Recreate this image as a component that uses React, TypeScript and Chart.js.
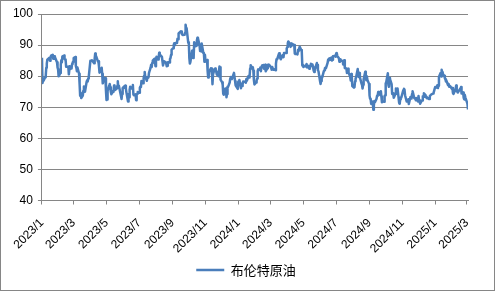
import React, { useEffect, useRef } from "react";
import { Chart, registerables } from "chart.js";

Chart.register(...registerables);

// ---- data ----
const seriesName = "布伦特原油";

const xTickLabels = [
  "2023/1", "2023/3", "2023/5", "2023/7", "2023/9", "2023/11",
  "2024/1", "2024/3", "2024/5", "2024/7", "2024/9", "2024/11",
  "2025/1", "2025/3",
];

const yMin = 40;
const yMax = 100;
const yStep = 10;

const priceDates: string[] = [
  // 2023-01
  "2023-01-03","2023-01-04","2023-01-05","2023-01-06","2023-01-09","2023-01-10","2023-01-11","2023-01-12","2023-01-13","2023-01-17","2023-01-18","2023-01-19","2023-01-20","2023-01-23","2023-01-24","2023-01-25","2023-01-26","2023-01-27","2023-01-30","2023-01-31",
  // 2023-02
  "2023-02-01","2023-02-02","2023-02-03","2023-02-06","2023-02-07","2023-02-08","2023-02-09","2023-02-10","2023-02-13","2023-02-14","2023-02-15","2023-02-16","2023-02-17","2023-02-21","2023-02-22","2023-02-23","2023-02-24","2023-02-27","2023-02-28",
  // 2023-03
  "2023-03-01","2023-03-02","2023-03-03","2023-03-06","2023-03-07","2023-03-08","2023-03-09","2023-03-10","2023-03-13","2023-03-14","2023-03-15","2023-03-16","2023-03-17","2023-03-20","2023-03-21","2023-03-22","2023-03-23","2023-03-24","2023-03-27","2023-03-28","2023-03-29","2023-03-30","2023-03-31",
  // 2023-04
  "2023-04-03","2023-04-04","2023-04-05","2023-04-06","2023-04-10","2023-04-11","2023-04-12","2023-04-13","2023-04-14","2023-04-17","2023-04-18","2023-04-19","2023-04-20","2023-04-21","2023-04-24","2023-04-25","2023-04-26","2023-04-27","2023-04-28",
  // 2023-05
  "2023-05-01","2023-05-02","2023-05-03","2023-05-04","2023-05-05","2023-05-08","2023-05-09","2023-05-10","2023-05-11","2023-05-12","2023-05-15","2023-05-16","2023-05-17","2023-05-18","2023-05-19","2023-05-22","2023-05-23","2023-05-24","2023-05-25","2023-05-26","2023-05-30","2023-05-31",
  // 2023-06
  "2023-06-01","2023-06-02","2023-06-05","2023-06-06","2023-06-07","2023-06-08","2023-06-09","2023-06-12","2023-06-13","2023-06-14","2023-06-15","2023-06-16","2023-06-19","2023-06-20","2023-06-21","2023-06-22","2023-06-23","2023-06-26","2023-06-27","2023-06-28","2023-06-29","2023-06-30",
  // 2023-07
  "2023-07-03","2023-07-04","2023-07-05","2023-07-06","2023-07-07","2023-07-10","2023-07-11","2023-07-12","2023-07-13","2023-07-14","2023-07-17","2023-07-18","2023-07-19","2023-07-20","2023-07-21","2023-07-24","2023-07-25","2023-07-26","2023-07-27","2023-07-28","2023-07-31",
  // 2023-08
  "2023-08-01","2023-08-02","2023-08-03","2023-08-04","2023-08-07","2023-08-08","2023-08-09","2023-08-10","2023-08-11","2023-08-14","2023-08-15","2023-08-16","2023-08-17","2023-08-18","2023-08-21","2023-08-22","2023-08-23","2023-08-24","2023-08-25","2023-08-28","2023-08-29","2023-08-30","2023-08-31",
  // 2023-09
  "2023-09-01","2023-09-04","2023-09-05","2023-09-06","2023-09-07","2023-09-08","2023-09-11","2023-09-12","2023-09-13","2023-09-14","2023-09-15","2023-09-18","2023-09-19","2023-09-20","2023-09-21","2023-09-22","2023-09-25","2023-09-26","2023-09-27","2023-09-28","2023-09-29",
  // 2023-10
  "2023-10-02","2023-10-03","2023-10-04","2023-10-05","2023-10-06","2023-10-09","2023-10-10","2023-10-11","2023-10-12","2023-10-13","2023-10-16","2023-10-17","2023-10-18","2023-10-19","2023-10-20","2023-10-23","2023-10-24","2023-10-25","2023-10-26","2023-10-27","2023-10-30","2023-10-31",
  // 2023-11
  "2023-11-01","2023-11-02","2023-11-03","2023-11-06","2023-11-07","2023-11-08","2023-11-09","2023-11-10","2023-11-13","2023-11-14","2023-11-15","2023-11-16","2023-11-17","2023-11-20","2023-11-21","2023-11-22","2023-11-23","2023-11-24","2023-11-27","2023-11-28","2023-11-29","2023-11-30",
  // 2023-12
  "2023-12-01","2023-12-04","2023-12-05","2023-12-06","2023-12-07","2023-12-08","2023-12-11","2023-12-12","2023-12-13","2023-12-14","2023-12-15","2023-12-18","2023-12-19","2023-12-20","2023-12-21","2023-12-22","2023-12-26","2023-12-27","2023-12-28","2023-12-29",
  // 2024-01
  "2024-01-02","2024-01-03","2024-01-04","2024-01-05","2024-01-08","2024-01-09","2024-01-10","2024-01-11","2024-01-12","2024-01-15","2024-01-16","2024-01-17","2024-01-18","2024-01-19","2024-01-22","2024-01-23","2024-01-24","2024-01-25","2024-01-26","2024-01-29","2024-01-30","2024-01-31",
  // 2024-02
  "2024-02-01","2024-02-02","2024-02-05","2024-02-06","2024-02-07","2024-02-08","2024-02-09","2024-02-12","2024-02-13","2024-02-14","2024-02-15","2024-02-16","2024-02-19","2024-02-20","2024-02-21","2024-02-22","2024-02-23","2024-02-26","2024-02-27","2024-02-28","2024-02-29",
  // 2024-03
  "2024-03-01","2024-03-04","2024-03-05","2024-03-06","2024-03-07","2024-03-08","2024-03-11","2024-03-12","2024-03-13","2024-03-14","2024-03-15","2024-03-18","2024-03-19","2024-03-20","2024-03-21","2024-03-22","2024-03-25","2024-03-26","2024-03-27","2024-03-28",
  // 2024-04
  "2024-04-01","2024-04-02","2024-04-03","2024-04-04","2024-04-05","2024-04-08","2024-04-09","2024-04-10","2024-04-11","2024-04-12","2024-04-15","2024-04-16","2024-04-17","2024-04-18","2024-04-19","2024-04-22","2024-04-23","2024-04-24","2024-04-25","2024-04-26","2024-04-29","2024-04-30",
  // 2024-05
  "2024-05-01","2024-05-02","2024-05-03","2024-05-06","2024-05-07","2024-05-08","2024-05-09","2024-05-10","2024-05-13","2024-05-14","2024-05-15","2024-05-16","2024-05-17","2024-05-20","2024-05-21","2024-05-22","2024-05-23","2024-05-24","2024-05-28","2024-05-29","2024-05-30","2024-05-31",
  // 2024-06
  "2024-06-03","2024-06-04","2024-06-05","2024-06-06","2024-06-07","2024-06-10","2024-06-11","2024-06-12","2024-06-13","2024-06-14","2024-06-17","2024-06-18","2024-06-19","2024-06-20","2024-06-21","2024-06-24","2024-06-25","2024-06-26","2024-06-27","2024-06-28",
  // 2024-07
  "2024-07-01","2024-07-02","2024-07-03","2024-07-04","2024-07-05","2024-07-08","2024-07-09","2024-07-10","2024-07-11","2024-07-12","2024-07-15","2024-07-16","2024-07-17","2024-07-18","2024-07-19","2024-07-22","2024-07-23","2024-07-24","2024-07-25","2024-07-26","2024-07-29","2024-07-30","2024-07-31",
  // 2024-08
  "2024-08-01","2024-08-02","2024-08-05","2024-08-06","2024-08-07","2024-08-08","2024-08-09","2024-08-12","2024-08-13","2024-08-14","2024-08-15","2024-08-16","2024-08-19","2024-08-20","2024-08-21","2024-08-22","2024-08-23","2024-08-26","2024-08-27","2024-08-28","2024-08-29","2024-08-30",
  // 2024-09
  "2024-09-02","2024-09-03","2024-09-04","2024-09-05","2024-09-06","2024-09-09","2024-09-10","2024-09-11","2024-09-12","2024-09-13","2024-09-16","2024-09-17","2024-09-18","2024-09-19","2024-09-20","2024-09-23","2024-09-24","2024-09-25","2024-09-26","2024-09-27","2024-09-30",
  // 2024-10
  "2024-10-01","2024-10-02","2024-10-03","2024-10-04","2024-10-07","2024-10-08","2024-10-09","2024-10-10","2024-10-11","2024-10-14","2024-10-15","2024-10-16","2024-10-17","2024-10-18","2024-10-21","2024-10-22","2024-10-23","2024-10-24","2024-10-25","2024-10-28","2024-10-29","2024-10-30","2024-10-31",
  // 2024-11
  "2024-11-01","2024-11-04","2024-11-05","2024-11-06","2024-11-07","2024-11-08","2024-11-11","2024-11-12","2024-11-13","2024-11-14","2024-11-15","2024-11-18","2024-11-19","2024-11-20","2024-11-21","2024-11-22","2024-11-25","2024-11-26","2024-11-27","2024-11-28","2024-11-29",
  // 2024-12
  "2024-12-02","2024-12-03","2024-12-04","2024-12-05","2024-12-06","2024-12-09","2024-12-10","2024-12-11","2024-12-12","2024-12-13","2024-12-16","2024-12-17","2024-12-18","2024-12-19","2024-12-20","2024-12-23","2024-12-24","2024-12-27","2024-12-30","2024-12-31",
  // 2025-01
  "2025-01-02","2025-01-03","2025-01-06","2025-01-07","2025-01-08","2025-01-09","2025-01-10","2025-01-13","2025-01-14","2025-01-15","2025-01-16","2025-01-17","2025-01-20","2025-01-21","2025-01-22","2025-01-23","2025-01-24","2025-01-27","2025-01-28","2025-01-29","2025-01-30","2025-01-31",
  // 2025-02
  "2025-02-03","2025-02-04","2025-02-05","2025-02-06","2025-02-07","2025-02-10","2025-02-11","2025-02-12","2025-02-13","2025-02-14","2025-02-18","2025-02-19","2025-02-20","2025-02-21","2025-02-24","2025-02-25","2025-02-26","2025-02-27","2025-02-28",
  // 2025-03
  "2025-03-03","2025-03-04","2025-03-05",
];

const brentPrices: number[] = [
  // 2023-01
  85.9, 77.84, 78.69, 78.57, 79.65, 80.1, 82.67, 84.03, 85.28, 85.92, 84.98, 86.16, 86.6, 86.9, 85.6, 85.9, 86.4, 86.2, 84.9, 84.49,
  // 2023-02
  82.84, 82.17, 79.94, 80.99, 83.69, 85.09, 84.5, 86.39, 86.61, 85.58, 85.38, 85.14, 83.0, 83.05, 80.6, 82.21, 83.16, 82.45, 83.89,
  // 2023-03
  84.31, 84.75, 85.83, 86.18, 83.29, 82.66, 81.59, 82.78, 80.77, 77.45, 73.69, 74.7, 72.97, 73.79, 75.32, 76.69, 75.91, 74.99, 78.12, 78.65, 78.28, 79.27, 79.77,
  // 2023-04
  84.93, 84.94, 84.99, 85.12, 84.18, 85.61, 87.33, 86.09, 86.31, 84.76, 84.77, 83.12, 81.1, 81.66, 82.73, 80.77, 77.69, 78.37, 79.54,
  // 2023-05
  79.31, 75.32, 72.33, 72.5, 75.3, 77.01, 77.44, 76.41, 74.98, 74.17, 75.23, 74.91, 76.96, 75.86, 75.58, 75.99, 76.84, 78.36, 76.26, 76.95, 73.54, 72.66,
  // 2023-06
  74.28, 76.13, 76.71, 76.29, 76.95, 75.96, 74.79, 71.84, 74.29, 73.2, 75.67, 76.61, 76.09, 75.9, 77.12, 74.14, 73.85, 74.18, 72.26, 74.03, 74.34, 74.9,
  // 2023-07
  74.65, 76.25, 76.65, 76.52, 78.47, 77.69, 79.4, 80.11, 81.36, 79.87, 78.5, 79.63, 79.46, 79.64, 81.07, 82.74, 83.64, 82.92, 84.24, 84.99, 85.56,
  // 2023-08
  84.91, 83.2, 85.14, 86.24, 85.34, 86.17, 87.55, 86.4, 86.81, 86.21, 84.89, 83.45, 84.12, 84.8, 84.46, 84.03, 83.21, 83.36, 84.48, 84.42, 85.49, 85.86, 86.86,
  // 2023-09
  88.55, 89.0, 90.04, 90.6, 89.92, 90.65, 90.64, 92.06, 91.88, 93.7, 93.93, 94.43, 94.34, 93.53, 93.3, 93.27, 93.29, 93.96, 96.55, 95.38, 95.31,
  // 2023-10
  90.71, 90.92, 85.81, 84.07, 84.58, 88.15, 87.65, 85.82, 86.0, 90.89, 89.65, 89.9, 91.5, 92.38, 92.16, 89.83, 88.07, 90.13, 87.93, 90.48, 87.45, 87.41,
  // 2023-11
  84.63, 86.85, 84.89, 85.18, 81.61, 79.54, 80.01, 81.43, 82.52, 82.47, 81.18, 77.42, 80.61, 82.32, 82.45, 81.96, 81.42, 80.58, 79.98, 81.68, 83.1, 82.83,
  // 2023-12
  78.88, 78.03, 77.2, 74.3, 74.05, 75.84, 76.03, 73.24, 74.26, 76.61, 76.55, 77.95, 79.23, 79.7, 79.39, 79.07, 81.07, 79.65, 78.39, 77.04,
  // 2024-01
  75.89, 78.25, 77.59, 78.76, 76.12, 77.59, 76.8, 77.41, 78.29, 78.15, 78.29, 77.88, 79.1, 78.56, 80.06, 79.55, 80.04, 82.43, 83.55, 82.4, 82.87, 81.71,
  // 2024-02
  78.7, 77.33, 77.99, 78.59, 79.21, 81.63, 82.19, 82.0, 82.77, 81.6, 82.86, 83.47, 83.56, 82.34, 83.03, 83.67, 81.62, 82.53, 83.65, 83.68, 83.62,
  // 2024-03
  83.55, 82.8, 82.04, 82.96, 82.96, 82.08, 82.21, 81.92, 84.03, 85.42, 85.34, 86.89, 87.38, 85.95, 85.78, 85.43, 86.75, 86.25, 86.09, 87.48,
  // 2024-04
  87.42, 88.92, 89.35, 90.65, 91.17, 90.38, 89.42, 90.48, 89.74, 90.45, 90.1, 90.02, 87.29, 87.11, 87.29, 87.0, 88.42, 88.02, 89.01, 89.5, 88.4, 87.86,
  // 2024-05
  83.44, 83.67, 82.96, 83.33, 83.16, 83.58, 83.88, 82.79, 83.36, 82.38, 82.75, 83.27, 83.98, 83.71, 82.88, 81.9, 81.36, 82.12, 84.22, 83.6, 81.86, 81.62,
  // 2024-06
  78.36, 77.52, 78.41, 79.87, 79.62, 81.63, 81.92, 82.6, 82.75, 82.62, 84.25, 85.33, 85.07, 85.71, 85.24, 86.01, 85.01, 85.25, 86.39, 86.41,
  // 2024-07
  86.6, 86.24, 87.34, 87.43, 86.54, 85.75, 84.66, 85.08, 85.4, 85.03, 84.85, 83.73, 85.08, 85.11, 82.63, 82.4, 81.01, 81.71, 82.37, 81.13, 79.78, 78.63, 80.72,
  // 2024-08
  79.52, 76.81, 76.3, 76.48, 78.33, 79.16, 79.66, 82.3, 80.69, 79.76, 81.04, 79.68, 77.66, 77.2, 76.05, 77.22, 79.02, 81.43, 79.55, 78.65, 79.94, 78.8,
  // 2024-09
  77.52, 73.75, 72.7, 72.69, 71.06, 71.84, 69.19, 70.61, 71.97, 71.61, 72.75, 73.7, 73.65, 74.88, 74.49, 73.9, 75.17, 73.46, 71.6, 71.98, 71.77,
  // 2024-10
  73.56, 73.9, 77.62, 78.05, 80.93, 77.18, 76.58, 79.4, 79.04, 77.46, 74.25, 74.22, 74.45, 73.06, 74.29, 76.04, 74.96, 74.38, 76.05, 71.42, 71.12, 72.55, 73.16,
  // 2024-11
  73.1, 75.08, 75.53, 75.92, 75.63, 73.87, 71.83, 71.89, 72.28, 72.56, 71.04, 73.3, 73.31, 72.81, 74.23, 75.17, 73.01, 72.81, 72.83, 72.28, 72.94,
  // 2024-12
  71.83, 73.62, 72.31, 72.09, 71.12, 72.14, 72.19, 73.52, 73.41, 74.49, 73.91, 73.19, 73.39, 72.88, 72.94, 72.63, 73.58, 74.17, 74.39, 74.64,
  // 2025-01
  75.93, 76.51, 76.3, 77.05, 76.16, 76.92, 79.76, 81.01, 79.92, 82.03, 81.29, 80.79, 80.15, 79.29, 79.0, 78.29, 78.5, 77.08, 77.49, 76.58, 76.87, 76.76,
  // 2025-02
  75.96, 76.2, 74.61, 74.29, 74.66, 75.87, 77.0, 75.18, 75.02, 74.74, 75.84, 76.04, 76.48, 74.43, 74.78, 73.02, 72.53, 74.04, 73.18,
  // 2025-03
  71.62, 71.04, 69.3,
];

// ---- helpers ----
const DAY_MS = 86400000;
function toUTC(s: string): number {
  const [y, m, d] = s.split("-").map(Number);
  return Date.UTC(y, m - 1, d);
}

const LINE_COLOR = "#4A7EBB";
const GRID_COLOR = "#868686";
const TEXT_FONT = "'Liberation Sans', Arial, sans-serif";

export default function App() {
  const canvasRef = useRef<HTMLCanvasElement | null>(null);

  useEffect(() => {
    const canvas = canvasRef.current;
    if (!canvas) return;
    const origin = toUTC(priceDates[0]);
    const originDay = new Date(origin).getUTCDate();
    const n = Math.min(priceDates.length, brentPrices.length);
    const points = [];
    for (let i = 0; i < n; i++) {
      points.push({ x: (toUTC(priceDates[i]) - origin) / DAY_MS, y: brentPrices[i] });
    }
    const maxX = points[points.length - 1].x;
    const tickValues = xTickLabels.map((l) => {
      const [y, m] = l.split("/").map(Number);
      return (Date.UTC(y, m - 1, originDay) - origin) / DAY_MS;
    });

    const framePlugin = {
      id: "frame",
      afterLayout(chart: any) {
        // centre the legend on the whole chart width, like the reference
        const lg = chart.legend;
        if (lg) {
          const shift = (chart.width - (lg.left + lg.right)) / 2 - 1.5;
          lg.left += shift;
          lg.right += shift;
        }
      },
      afterDraw(chart: any) {
        const c = chart.ctx;
        c.save();
        c.strokeStyle = GRID_COLOR;
        c.lineWidth = 1;
        c.strokeRect(0.5, 0.5, chart.width - 1, chart.height - 1);
        c.restore();
      },
    };

    const chart = new Chart(canvas, {
      type: "line",
      data: {
        datasets: [
          {
            label: seriesName,
            data: points,
            borderColor: LINE_COLOR,
            backgroundColor: LINE_COLOR,
            borderWidth: 2.5,
            pointRadius: 0,
            tension: 0,
            borderJoinStyle: "round",
            fill: false,
          },
        ],
      },
      options: {
        animation: false,
        responsive: false,
        maintainAspectRatio: false,
        devicePixelRatio: 1,
        events: [],
        layout: { padding: { left: 0, right: 27, top: 14, bottom: 4.5 } },
        plugins: {
          legend: {
            position: "bottom",
            labels: {
              usePointStyle: true,
              pointStyle: "line",
              pointStyleWidth: 28,
              padding: 10,
              color: "#000",
              font: { family: "'Noto Sans CJK SC', sans-serif", size: 13 },
            },
          },
          tooltip: { enabled: false },
        },
        scales: {
          x: {
            type: "linear",
            min: 0,
            max: maxX,
            afterBuildTicks: (scale: any) => {
              scale.ticks = tickValues.map((v) => ({ value: v }));
            },
            afterFit: (scale: any) => {
              scale.height = 53;
            },
            ticks: {
              autoSkip: false,
              minRotation: 45,
              maxRotation: 45,
              padding: 16,
              color: "#000",
              font: { family: TEXT_FONT, size: 12, lineHeight: 0.1 },
              callback: (_v: any, i: number) => xTickLabels[i],
            },
            grid: { drawOnChartArea: false, drawTicks: true, tickLength: 4, color: GRID_COLOR },
            border: { display: true, color: GRID_COLOR },
          },
          y: {
            min: yMin,
            max: yMax,
            afterFit: (scale: any) => {
              scale.width = 36;
            },
            ticks: {
              stepSize: yStep,
              padding: 5,
              color: "#000",
              font: { family: TEXT_FONT, size: 12 },
            },
            grid: { color: GRID_COLOR, tickLength: 4 },
            border: { display: true, color: GRID_COLOR },
          },
        },
      },
      plugins: [framePlugin],
    } as any);

    return () => chart.destroy();
  }, []);

  return (
    <div style={{ position: "fixed", left: 0, top: 0, width: 495, height: 291, background: "#fff" }}>
      <canvas ref={canvasRef} width={495} height={291} style={{ display: "block", width: 495, height: 291 }} />
    </div>
  );
}
